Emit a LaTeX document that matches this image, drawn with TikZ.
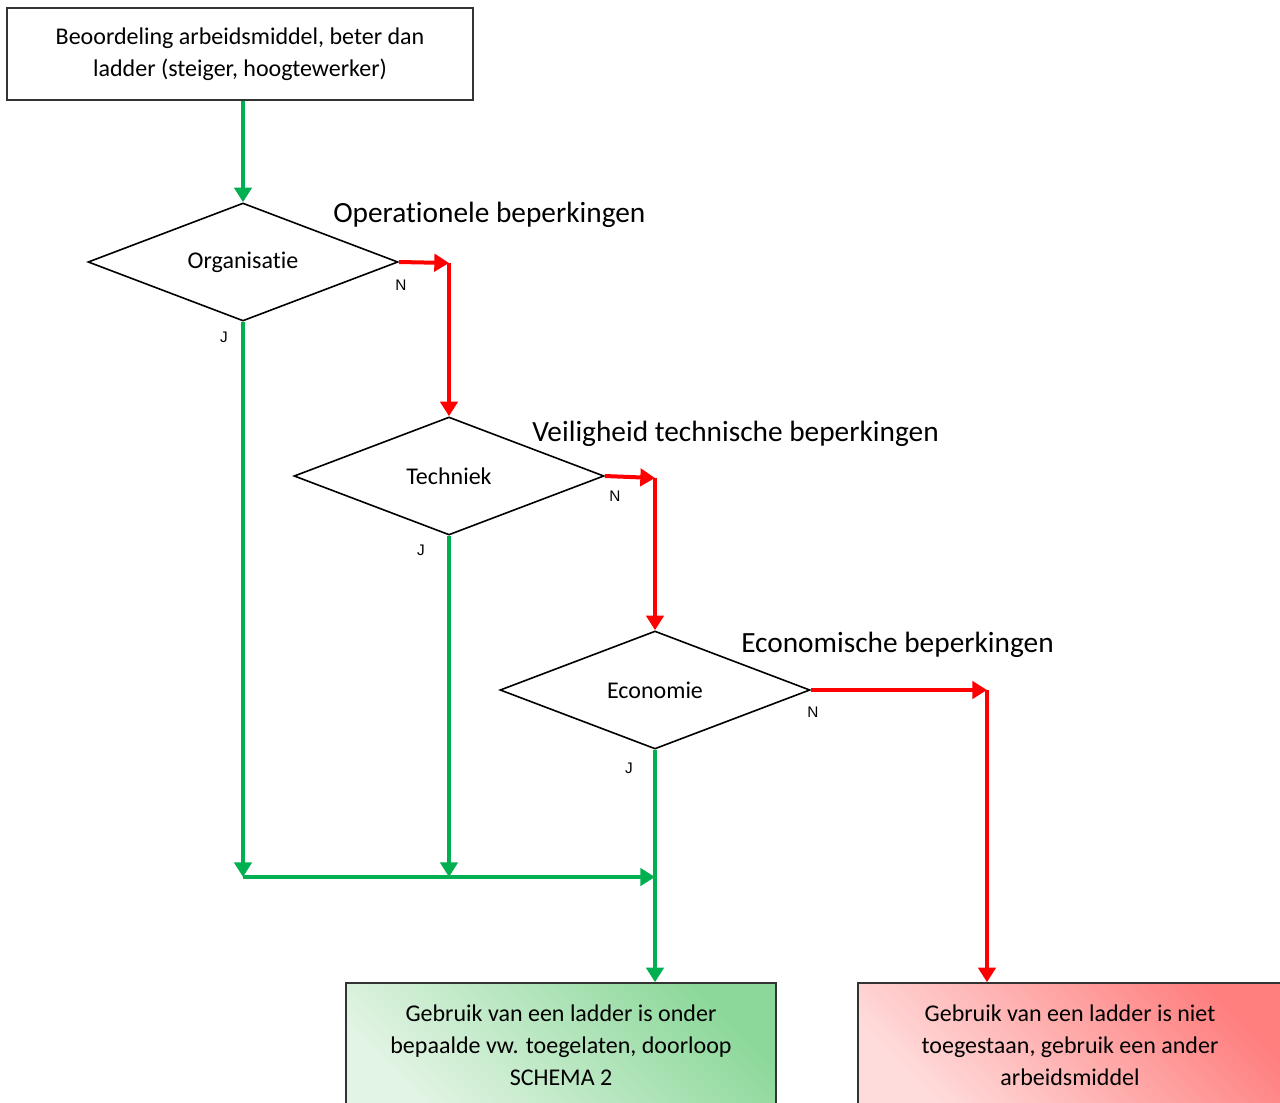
\documentclass[tikz,border=0pt]{standalone}
\usepackage{fontspec}
\setmainfont{Carlito}[Ligatures=NoCommon]
\newfontfamily\lblfont{Liberation Sans}
\usetikzlibrary{shapes.geometric,arrows.meta}
\definecolor{flowgreen}{HTML}{00B050}
\definecolor{flowred}{HTML}{FF0000}
\definecolor{gdark}{HTML}{8CD89A}
\definecolor{glight}{HTML}{E2F4E4}
\definecolor{rdark}{HTML}{FF7F7F}
\definecolor{rlight}{HTML}{FFDCDC}
\begin{document}
\begin{tikzpicture}[x=0.75pt,y=-0.75pt,
  box/.style={draw=black!80,line width=1.2pt,align=center,font=\fontsize{18}{24}\selectfont,inner sep=0pt},
  dec/.style={draw=black,line width=1.2pt,shape=diamond,aspect=2.6,minimum width=232.5pt,minimum height=88.5pt,inner sep=0pt,font=\fontsize{18}{20}\selectfont},
  yes/.style={draw=flowgreen,line width=3pt,-{Triangle[length=11pt,width=13pt]}},
  no/.style={draw=flowred,line width=3pt,-{Triangle[length=11pt,width=13pt]}},
  lbl/.style={font=\lblfont\fontsize{11.5}{13}\selectfont},
  head/.style={font=\fontsize{22}{26}\selectfont,anchor=west,inner sep=0pt}]
\path[use as bounding box,clip] (0,0) rectangle (1280,1102);

\node[box,minimum width=349.5pt,minimum height=69pt] (start) at (240,54)
  {Beoordeling arbeidsmiddel, beter dan\\ladder (steiger, hoogtewerker)};

\node[dec] (org) at (243,262) {Organisatie};
\node[dec] (tech) at (449,476) {Techniek};
\node[dec] (eco) at (655,690) {Economie};

\node[head] (h1) at (333,215) {Operationele beperkingen};
\node[head] (h2) at (532,434) {Veiligheid technische beperkingen};
\node[head] (h3) at (741,645) {Economische beperkingen};

\node[lbl] (n1) at (401,285) {N};
\node[lbl] (j1) at (224,337) {J};
\node[lbl] (n2) at (615,496) {N};
\node[lbl] (j2) at (421,550) {J};
\node[lbl] (n3) at (813,712) {N};
\node[lbl] (j3) at (629,768) {J};

\node[box,minimum width=322.5pt,minimum height=93pt,shading=axis,top color=gdark,bottom color=glight,shading angle=-45] (accept) at (561,1045)
  {Gebruik van een ladder is onder\\bepaalde vw. toegelaten, doorloop\\SCHEMA 2};
\node[box,minimum width=318pt,minimum height=93pt,shading=axis,top color=rdark,bottom color=rlight,shading angle=-45] (reject) at (1070,1045)
  {Gebruik van een ladder is niet\\toegestaan, gebruik een ander\\arbeidsmiddel};

\coordinate (c1) at (449,263);
\coordinate (c2) at (655,478);
\coordinate (c3) at (987,690);
\coordinate (m1) at (243,877);
\coordinate (m2) at (449,877);
\coordinate (m3) at (655,877);

\draw[yes] (start.south -| org.north) -- (org.north);
\draw[no] (org.east) -- (c1);
\draw[no] (c1) -- (tech.north);
\draw[no] (tech.east) -- (c2);
\draw[no] (c2) -- (eco.north);
\draw[no] (eco.east) -- (c3);
\draw[no] (c3) -- (c3 |- reject.north);

\draw[yes] (org.south) -- (m1);
\draw[yes] (tech.south) -- (m2);
\draw[yes] (m1) -- (m3);
\draw[yes] (eco.south) -- (eco.south |- accept.north);
\end{tikzpicture}
\end{document}
